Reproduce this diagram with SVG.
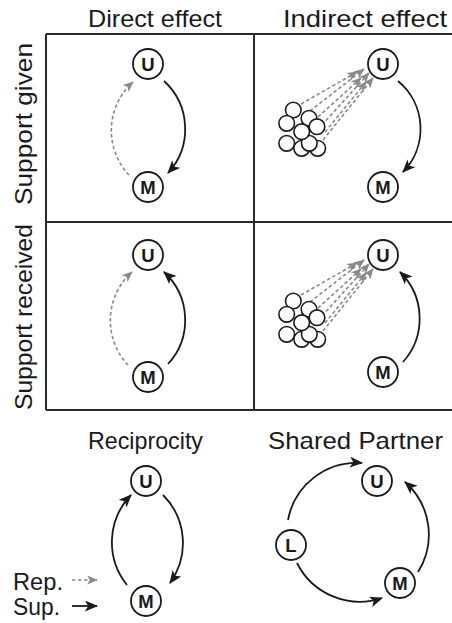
<svg xmlns="http://www.w3.org/2000/svg" width="452" height="623" viewBox="0 0 452 623">
<style>
.lbl{font-family:"Liberation Sans",Arial,sans-serif;font-size:24px;fill:#1a1a1a}
.nt{font-family:"Liberation Sans",Arial,sans-serif;font-size:18.5px;font-weight:bold;fill:#1a1a1a;text-anchor:middle}
.nc{fill:#fff;stroke:#1a1a1a;stroke-width:1.8}
.sc{fill:#fff;stroke:#1a1a1a;stroke-width:1.6}
.grid{stroke:#2a2a2a;stroke-width:2;fill:none}
.sup{fill:none;stroke:#1a1a1a;stroke-width:1.8;marker-end:url(#ab)}
.rep{fill:none;stroke:#8a8a8a;stroke-width:1.6;stroke-dasharray:3.5 2.5;marker-end:url(#ag)}
</style>
<defs>
<marker id="ab" viewBox="0 0 12 10" refX="11" refY="5" markerWidth="14" markerHeight="11" markerUnits="userSpaceOnUse" orient="auto">
<path d="M0,0 L12,5 L0,10 L3,5 z" fill="#1a1a1a"/>
</marker>
<marker id="ag" viewBox="0 0 12 10" refX="11" refY="5" markerWidth="11" markerHeight="9" markerUnits="userSpaceOnUse" orient="auto">
<path d="M0,0 L12,5 L0,10 L3,5 z" fill="#8a8a8a"/>
</marker>
</defs>

<g id="grid">
<path class="grid" d="M46,34 H452 M46,222 H452 M46,410 H452 M46,34 V410 M254,34 V410"/>
</g>

<g id="labels">
<text class="lbl" x="88" y="27" textLength="134" lengthAdjust="spacingAndGlyphs">Direct effect</text>
<text class="lbl" x="283" y="27" textLength="164" lengthAdjust="spacingAndGlyphs">Indirect effect</text>
<text class="lbl" transform="translate(32,205) rotate(-90)" textLength="162" lengthAdjust="spacingAndGlyphs">Support given</text>
<text class="lbl" transform="translate(32,410) rotate(-90)" textLength="186" lengthAdjust="spacingAndGlyphs">Support received</text>
<text class="lbl" x="88" y="449" textLength="115" lengthAdjust="spacingAndGlyphs">Reciprocity</text>
<text class="lbl" x="268" y="449" textLength="175" lengthAdjust="spacingAndGlyphs">Shared Partner</text>
<text class="lbl" x="13" y="590" textLength="50" lengthAdjust="spacingAndGlyphs">Rep.</text>
<text class="lbl" x="13" y="615" textLength="47" lengthAdjust="spacingAndGlyphs">Sup.</text>
</g>

<g id="connectors">
<path class="sup" d="M164,81 A65,65 0 0 1 168,173"/>
<path class="rep" d="M129,175 A65,65 0 0 1 133,82"/>
<path class="sup" d="M398,81 A62,62 0 0 1 403,172"/>
<path class="sup" d="M168,364 A65,65 0 0 0 164,272"/>
<path class="rep" d="M128,365 A65,65 0 0 1 132,272"/>
<path class="sup" d="M403,362 A65,65 0 0 0 400,272"/>
<path class="rep" d="M301,104 L357,72"/>
<path class="rep" d="M310,111 L364,69"/>
<path class="rep" d="M318,117 L361,78"/>
<path class="rep" d="M322,125 L369,73"/>
<path class="rep" d="M325,132 L366,82"/>
<path class="rep" d="M323,140 L373,78"/>
<path class="rep" d="M301,295 L357,263"/>
<path class="rep" d="M310,302 L364,260"/>
<path class="rep" d="M318,308 L361,269"/>
<path class="rep" d="M322,316 L369,264"/>
<path class="rep" d="M325,323 L366,273"/>
<path class="rep" d="M323,331 L373,269"/>
<path class="sup" d="M127,585 A68,68 0 0 1 131,495"/>
<path class="sup" d="M163,495 A68,68 0 0 1 170,583"/>
<path class="sup" d="M288,520 A70,70 0 0 1 362,463"/>
<path class="sup" d="M297,563 A70,70 0 0 0 382,598"/>
<path class="sup" d="M418,572 A70,70 0 0 0 405,482"/>
<path class="rep" d="M72,580 L97,580"/>
<path class="sup" d="M72,606 L97,606"/>
</g>

<g id="cluster-given">
<circle class="sc" cx="293.3" cy="110" r="7.8"/>
<circle class="sc" cx="286.7" cy="123.3" r="7.8"/>
<circle class="sc" cx="309" cy="118.3" r="7.8"/>
<circle class="sc" cx="317" cy="126.7" r="7.8"/>
<circle class="sc" cx="286.7" cy="143.3" r="7.8"/>
<circle class="sc" cx="301.7" cy="148.3" r="7.8"/>
<circle class="sc" cx="317.7" cy="148.3" r="7.8"/>
<circle class="sc" cx="309.3" cy="143.3" r="7.8"/>
<circle class="sc" cx="301.7" cy="131.7" r="7.8"/>
</g>
<g id="cluster-received">
<circle class="sc" cx="293.3" cy="301" r="7.8"/>
<circle class="sc" cx="286.7" cy="314.3" r="7.8"/>
<circle class="sc" cx="309" cy="309.3" r="7.8"/>
<circle class="sc" cx="317" cy="317.7" r="7.8"/>
<circle class="sc" cx="286.7" cy="334.3" r="7.8"/>
<circle class="sc" cx="301.7" cy="339.3" r="7.8"/>
<circle class="sc" cx="317.7" cy="339.3" r="7.8"/>
<circle class="sc" cx="309.3" cy="334.3" r="7.8"/>
<circle class="sc" cx="301.7" cy="322.7" r="7.8"/>
</g>

<g id="dg-U"><circle class="nc" cx="148" cy="64" r="15"/><text class="nt" x="148" y="70.5">U</text></g>
<g id="dg-M"><circle class="nc" cx="148" cy="187" r="15"/><text class="nt" x="148" y="193.5">M</text></g>
<g id="ig-U"><circle class="nc" cx="383" cy="64" r="15"/><text class="nt" x="383" y="70.5">U</text></g>
<g id="ig-M"><circle class="nc" cx="383" cy="187" r="15"/><text class="nt" x="383" y="193.5">M</text></g>
<g id="dr-U"><circle class="nc" cx="148" cy="255" r="15"/><text class="nt" x="148" y="261.5">U</text></g>
<g id="dr-M"><circle class="nc" cx="148" cy="377" r="15"/><text class="nt" x="148" y="383.5">M</text></g>
<g id="ir-U"><circle class="nc" cx="383" cy="255" r="15"/><text class="nt" x="383" y="261.5">U</text></g>
<g id="ir-M"><circle class="nc" cx="383" cy="372" r="15"/><text class="nt" x="383" y="378.5">M</text></g>
<g id="rc-U"><circle class="nc" cx="146" cy="481" r="15"/><text class="nt" x="146" y="487.5">U</text></g>
<g id="rc-M"><circle class="nc" cx="146" cy="601" r="15"/><text class="nt" x="146" y="607.5">M</text></g>
<g id="sp-U"><circle class="nc" cx="377" cy="481" r="15"/><text class="nt" x="377" y="487.5">U</text></g>
<g id="sp-L"><circle class="nc" cx="291" cy="545" r="15"/><text class="nt" x="291" y="551.5">L</text></g>
<g id="sp-M"><circle class="nc" cx="400" cy="583" r="15"/><text class="nt" x="400" y="589.5">M</text></g>
</svg>
